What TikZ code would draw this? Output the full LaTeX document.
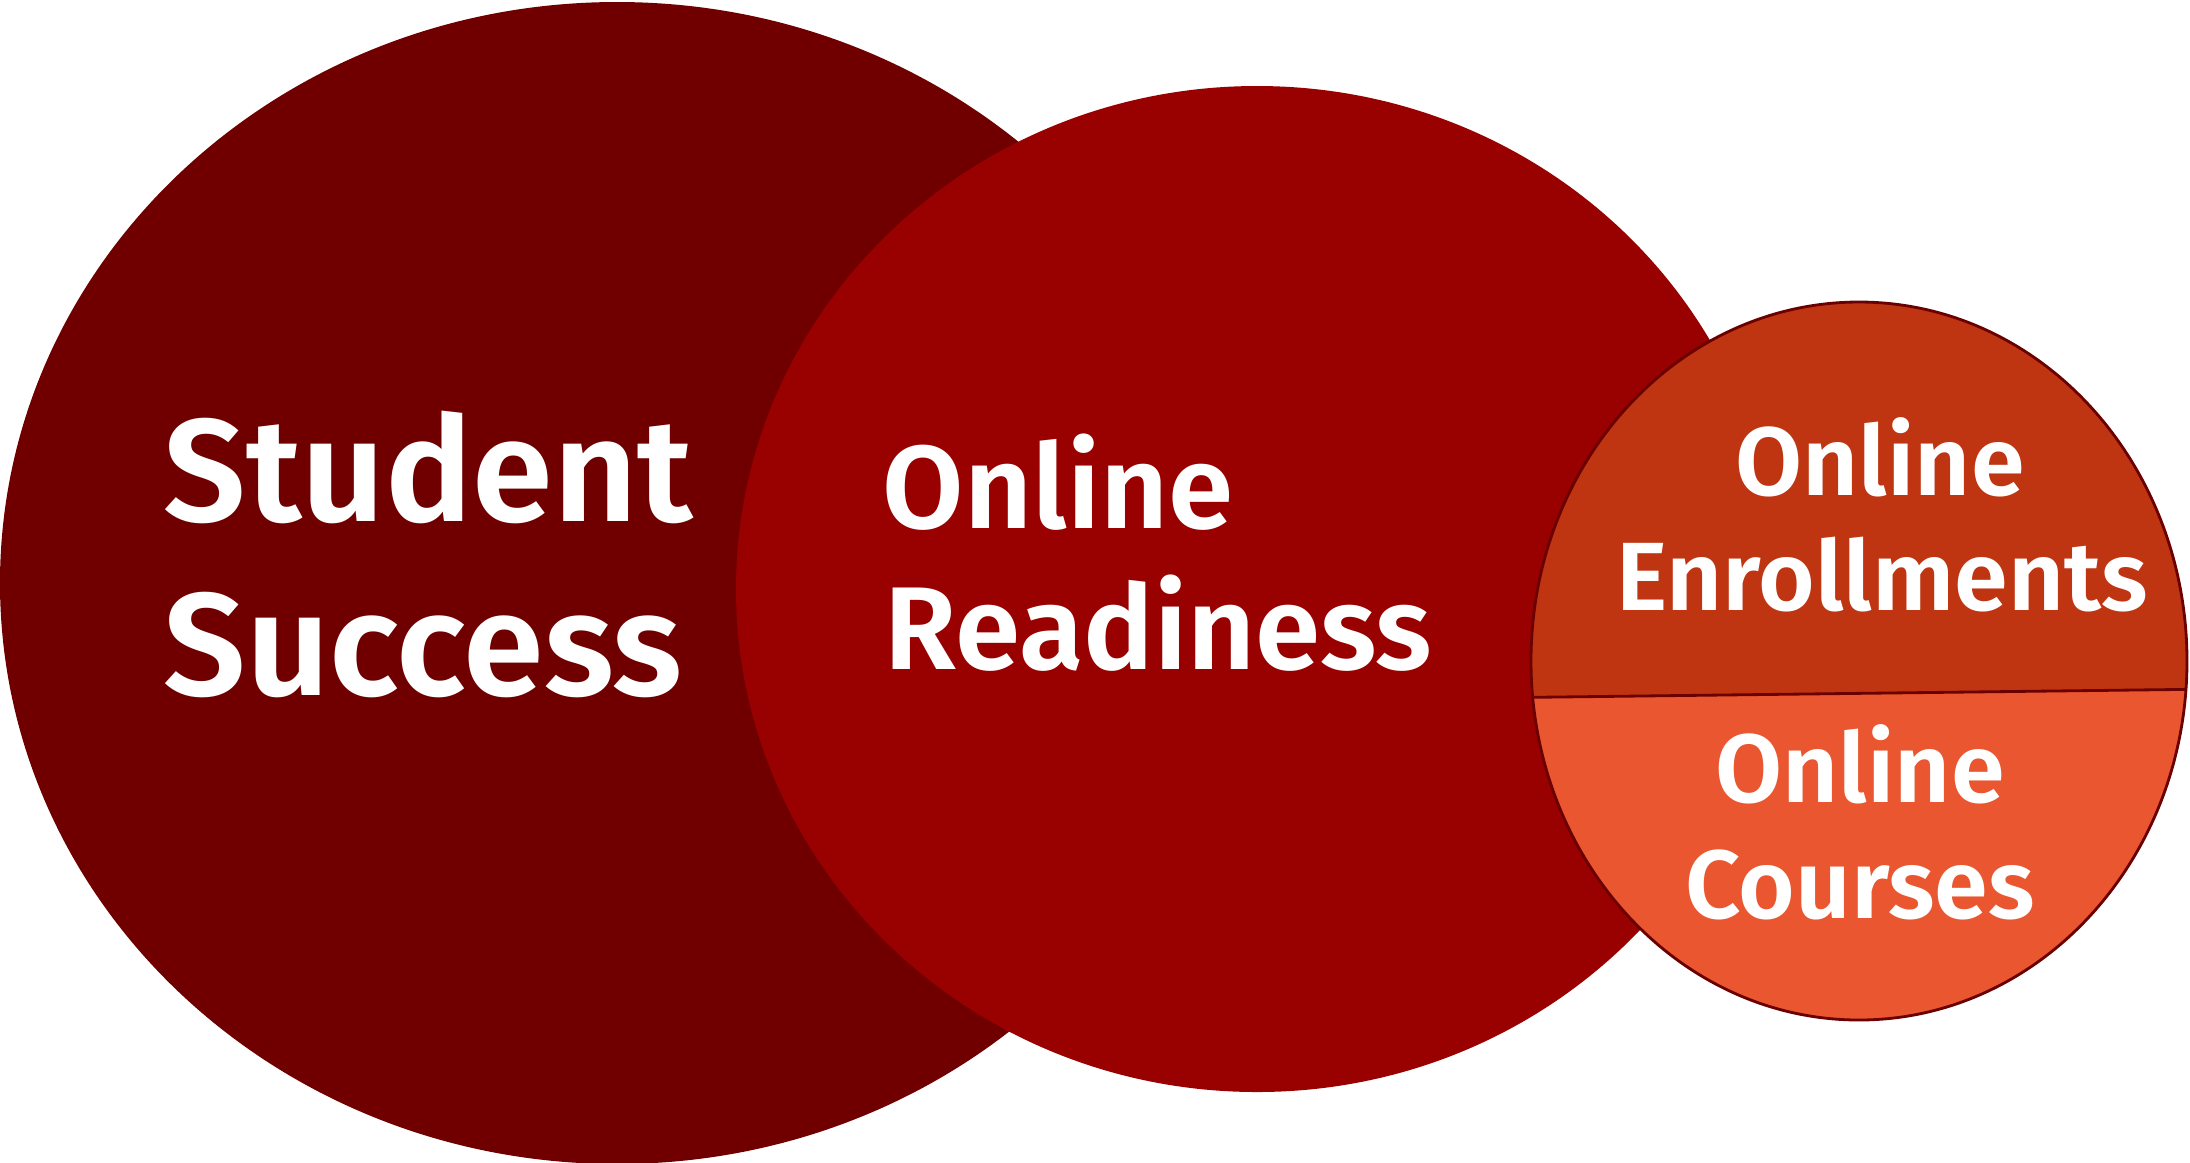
\documentclass[tikz,border=0pt]{standalone}
\usepackage{fontspec}
\setmainfont{Fira Sans}[BoldFont={* SemiBold}]
\definecolor{ssred}{HTML}{700000}
\definecolor{orred}{HTML}{990000}
\definecolor{enred}{HTML}{BF3512}
\definecolor{coorange}{HTML}{E9562F}
\definecolor{rim}{HTML}{6A0000}
\begin{document}
\begin{tikzpicture}[x=0.01cm,y=-0.01cm,
  lbl/.style={text=white,inner sep=0pt},
  bigtxt/.style={lbl,font=\fontsize{41.5}{48}\selectfont\bfseries},
  midtxt/.style={lbl,font=\fontsize{33.5}{40}\selectfont\bfseries},
  smtxt/.style={lbl,font=\fontsize{27.6}{33}\selectfont\bfseries},
  rimline/.style={draw=rim,line width=0.8pt}]
\useasboundingbox (0,0) rectangle (2190,1162);
\clip (0,0) rectangle (2190,1162);
% Student Success
\fill[ssred] (617,583) ellipse [x radius=617, y radius=581];
% Online Readiness
\fill[orred] (1257,589) ellipse [x radius=521, y radius=503];
% right circle
\fill[coorange] (1859,661) ellipse [x radius=328, y radius=359];
\begin{scope}
  \clip (1859,661) ellipse [x radius=328, y radius=359];
  \fill[enred] (1500,250) -- (2250,250) -- (2250,688.6) -- (1500,697.7) -- cycle;
  \draw[rimline] (1500,697.7) -- (2250,688.6);
\end{scope}
\draw[rimline] (1859,661) ellipse [x radius=328, y radius=359];
% labels
\node[bigtxt, anchor=base west] (s1) at (163,521) {Student};
\node[bigtxt, anchor=base west] (s2) at (163,695) {Success};
\node[midtxt, anchor=base west] (r1) at (882,528) {Online};
\node[midtxt, anchor=base west] (r2) at (884,669) {Readiness};
\node[smtxt, anchor=base] (e1) at (1880,495) {Online};
\node[smtxt, anchor=base] (e2) at (1882,610) {Enrollments};
\node[smtxt, anchor=base] (c1) at (1860,802) {Online};
\node[smtxt, anchor=base] (c2) at (1860,918) {Courses};
\end{tikzpicture}
\end{document}
